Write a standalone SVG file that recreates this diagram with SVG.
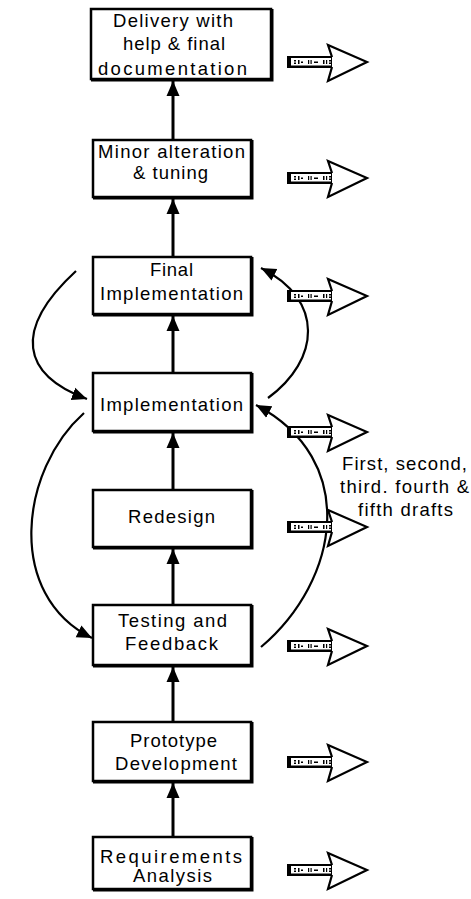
<svg xmlns="http://www.w3.org/2000/svg" width="471" height="899" viewBox="0 0 471 899">
  <style>
    .box { fill: #fff; stroke: #000; stroke-width: 2.5; }
    .shadow { fill: none; stroke: #000; stroke-width: 2; }
    .lbl { font-family: "Liberation Sans", Arial, sans-serif; font-size: 18.5px; fill: #000; text-anchor: start; }
    .flow { fill: none; stroke: #000; stroke-width: 3; }
    .curve { fill: none; stroke: #000; stroke-width: 2.2; }
  </style>
  <defs>
    <marker id="tri" markerUnits="userSpaceOnUse" markerWidth="16" markerHeight="16" viewBox="0 0 16 16" refX="15" refY="8" orient="auto">
      <path d="M0,1.5 L15,8 L0,14.5 Z" fill="#000"/>
    </marker>
    <!-- fat outlined output arrow, tip at (81,0) -->
    <g id="fat">
      <rect x="1" y="-5" width="44" height="10" fill="#fff" stroke="#000" stroke-width="2"/>
      <rect x="0" y="-6" width="4" height="12" fill="#000"/>
      <rect x="0" y="3.5" width="45" height="2.5" fill="#000"/>
      <g fill="#000">
        <rect x="7" y="-2" width="2" height="1.5"/>
        <rect x="7" y="0.5" width="2" height="1.5"/>
        <rect x="11" y="-2" width="1.5" height="4"/>
        <rect x="14" y="-0.5" width="2" height="1.5"/>
        <rect x="21" y="-2" width="1.2" height="4"/>
        <rect x="23.5" y="-2" width="1.2" height="4"/>
        <rect x="27" y="-0.5" width="4" height="1.5"/>
        <rect x="36" y="-2" width="1.5" height="4"/>
        <rect x="39" y="-2" width="1.2" height="4"/>
        <rect x="42" y="-2" width="2" height="1.5"/>
        <rect x="42" y="0.5" width="2" height="1.5"/>
      </g>
      <path d="M45,-5 L41,-17 L80,0 L41,19 L45,5" fill="#fff" stroke="#000" stroke-width="2.2" stroke-linejoin="miter"/>
    </g>
  </defs>

  <!-- vertical flow between stages -->
  <g id="connectors">
    <line class="flow" x1="173" y1="140" x2="173" y2="81" marker-end="url(#tri)"/>
    <line class="flow" x1="173" y1="257" x2="173" y2="199" marker-end="url(#tri)"/>
    <line class="flow" x1="173" y1="373" x2="173" y2="316" marker-end="url(#tri)"/>
    <line class="flow" x1="173" y1="490" x2="173" y2="433" marker-end="url(#tri)"/>
    <line class="flow" x1="173" y1="605" x2="173" y2="549" marker-end="url(#tri)"/>
    <line class="flow" x1="173" y1="722" x2="173" y2="667" marker-end="url(#tri)"/>
    <line class="flow" x1="173" y1="837" x2="173" y2="783" marker-end="url(#tri)"/>
    <!-- iteration loops -->
    <path class="curve" d="M76,271 C12,330 22,375 87,399" marker-end="url(#tri)"/>
    <path class="curve" d="M84,413 C20,470 5,595 92,638" marker-end="url(#tri)"/>
    <path class="curve" d="M261,647 C340,580 360,460 256,405" marker-end="url(#tri)"/>
    <path class="curve" d="M268,398 C320,360 325,300 261,268" marker-end="url(#tri)"/>
  </g>

  <g id="delivery">
    <rect class="box" x="91" y="9" width="180" height="70"/>
    <polyline class="shadow" points="272.5,9 272.5,80.5 91,80.5"/>
    <text class="lbl" x="113" y="27" textLength="120" lengthAdjust="spacing">Delivery with</text>
    <text class="lbl" x="123" y="50" textLength="102" lengthAdjust="spacing">help &amp; final</text>
    <text class="lbl" x="98" y="75" textLength="149" lengthAdjust="spacing">documentation</text>
  </g>
  <g id="tuning">
    <rect class="box" x="93" y="140" width="158" height="57"/>
    <polyline class="shadow" points="252.5,140 252.5,198.5 93,198.5"/>
    <text class="lbl" x="98" y="158" textLength="147" lengthAdjust="spacing">Minor alteration</text>
    <text class="lbl" x="133" y="179" textLength="75" lengthAdjust="spacing">&amp; tuning</text>
  </g>
  <g id="final-impl">
    <rect class="box" x="93" y="257" width="158" height="57"/>
    <polyline class="shadow" points="252.5,257 252.5,315.5 93,315.5"/>
    <text class="lbl" x="150" y="276" textLength="43" lengthAdjust="spacing">Final</text>
    <text class="lbl" x="100" y="300" textLength="143" lengthAdjust="spacing">Implementation</text>
  </g>
  <g id="impl">
    <rect class="box" x="93" y="373" width="158" height="58"/>
    <polyline class="shadow" points="252.5,373 252.5,432.5 93,432.5"/>
    <text class="lbl" x="100" y="411" textLength="143" lengthAdjust="spacing">Implementation</text>
  </g>
  <g id="redesign">
    <rect class="box" x="93" y="490" width="158" height="57"/>
    <polyline class="shadow" points="252.5,490 252.5,548.5 93,548.5"/>
    <text class="lbl" x="128" y="523" textLength="87" lengthAdjust="spacing">Redesign</text>
  </g>
  <g id="testing">
    <rect class="box" x="93" y="605" width="158" height="60"/>
    <polyline class="shadow" points="252.5,605 252.5,666.5 93,666.5"/>
    <text class="lbl" x="118" y="627" textLength="109" lengthAdjust="spacing">Testing and</text>
    <text class="lbl" x="125" y="650" textLength="93" lengthAdjust="spacing">Feedback</text>
  </g>
  <g id="prototype">
    <rect class="box" x="93" y="722" width="158" height="59"/>
    <polyline class="shadow" points="252.5,722 252.5,782.5 93,782.5"/>
    <text class="lbl" x="130" y="747" textLength="87" lengthAdjust="spacing">Prototype</text>
    <text class="lbl" x="115" y="770" textLength="122" lengthAdjust="spacing">Development</text>
  </g>
  <g id="requirements">
    <rect class="box" x="93" y="837" width="158" height="52"/>
    <polyline class="shadow" points="252.5,837 252.5,890.5 93,890.5"/>
    <text class="lbl" x="100" y="863" textLength="142" lengthAdjust="spacing">Requirements</text>
    <text class="lbl" x="133" y="882" textLength="79" lengthAdjust="spacing">Analysis</text>
  </g>

  <!-- per-stage outputs -->
  <g id="outputs">
    <use href="#fat" x="287" y="62"/>
    <use href="#fat" x="287" y="178"/>
    <use href="#fat" x="287" y="296"/>
    <use href="#fat" x="287" y="432"/>
    <use href="#fat" x="287" y="527"/>
    <use href="#fat" x="287" y="646"/>
    <use href="#fat" x="287" y="762"/>
    <use href="#fat" x="287" y="870"/>
  </g>

  <g id="drafts-note">
    <text class="lbl" x="342" y="470" textLength="125" lengthAdjust="spacing">First, second,</text>
    <text class="lbl" x="340" y="493" textLength="129" lengthAdjust="spacing">third. fourth &amp;</text>
    <text class="lbl" x="358" y="516" textLength="95" lengthAdjust="spacing">fifth drafts</text>
  </g>
</svg>
